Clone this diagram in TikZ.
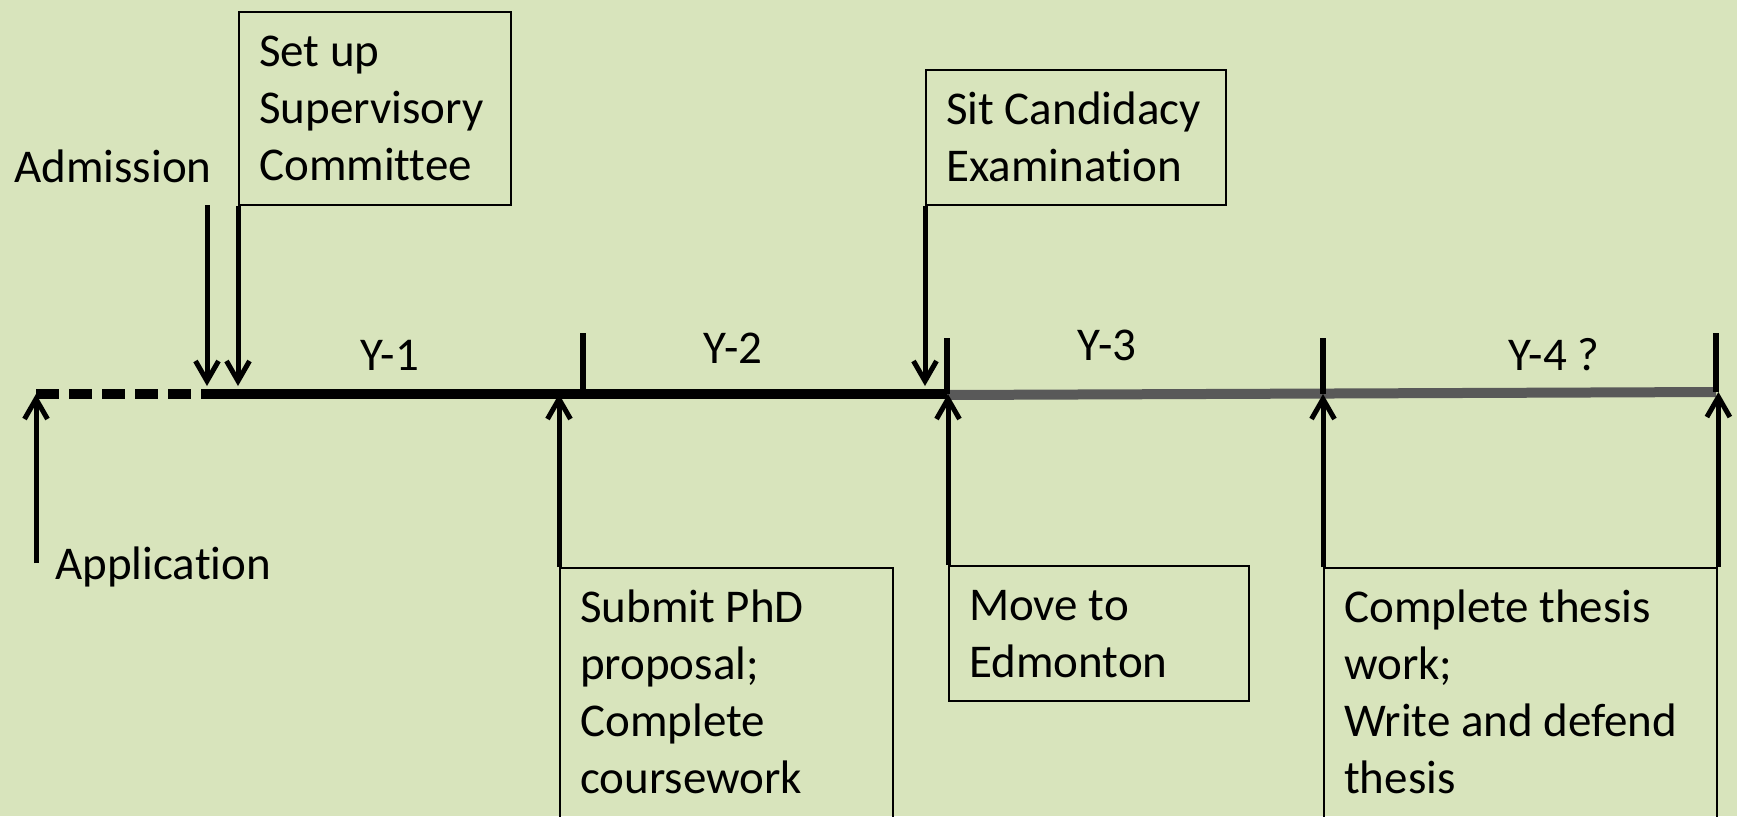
\documentclass[tikz,border=0pt]{standalone}
\usepackage{fontspec}
\setmainfont{Carlito}[Ligatures=NoCommon]
\usetikzlibrary{arrows.meta}
\definecolor{sheetgreen}{HTML}{D8E4BC}
\definecolor{laterline}{HTML}{595959}
\newcommand{\notefont}{\fontsize{23.5pt}{28.5pt}\selectfont}
\tikzset{
  notebox/.style={draw, line width=1.2pt, anchor=north west, align=flush left,
    inner xsep=10pt, inner ysep=7pt, font=\notefont},
  eventtag/.style={inner sep=0pt, font=\notefont},
  pointer/.style={line width=2.5pt, -{Straight Barb[length=10pt,width=11.5pt]}},
  yeartick/.style={line width=3pt},
}
\begin{document}
\begin{tikzpicture}[x=0.5pt, y=-0.5pt]
    \fill[sheetgreen] (0,0) rectangle (1737,816);
    \useasboundingbox (0,0) rectangle (1737,816);

    % points on the time line
    \coordinate (apply) at (36,394);
    \coordinate (admit) at (207,394);
    \coordinate (endone) at (583,394);
    \coordinate (endtwo) at (947,394);
    \coordinate (endthree) at (1323,394);
    \coordinate (endfour) at (1716,392);

    % time line: before admission, Y-1 and Y-2, then Y-3 and Y-4
    \draw[line width=5pt, dash pattern=on 11.5pt off 5pt] (apply) -- (admit);
    \draw[line width=5pt] (admit) -- (endtwo);
    \draw[line width=5pt, laterline] (endtwo) ++(0,1) -- (endfour);

    % year ticks
    \foreach \p/\h in {endone/61, endtwo/56, endthree/56, endfour/59}
        \draw[yeartick] (\p) -- ++(0,-\h);

    % year labels
    \node[eventtag, anchor=base] (yone) at (390,370) {Y-1};
    \node[eventtag, anchor=base] (ytwo) at (733,363) {Y-2};
    \node[eventtag, anchor=base] (ythree) at (1107,360) {Y-3};
    \node[eventtag, anchor=base] (yfour) at (1554,370) {Y-4 ?};

    % events above the line
    \node[eventtag, anchor=base west] (admission) at (14,182) {Admission};
    \node[notebox, text width=116pt, text depth=62.5pt] (setup) at (238,11)
        {\strut Set up\\Supervisory\\Committee};
    \node[notebox, text width=130pt, text depth=33.5pt] (sit) at (925,69)
        {\strut Sit Candidacy\\Examination};

    % events below the line
    \node[eventtag, anchor=base west] (application) at (55,579) {Application};
    \node[notebox, text width=146.5pt, text depth=150pt] (submit) at (559,567)
        {\strut Submit PhD\\proposal;\\Complete\\coursework};
    \node[notebox, text width=130pt, text depth=33.5pt] (move) at (948,565)
        {\strut Move to\\Edmonton};
    \node[notebox, text width=176.5pt, text depth=150pt] (finish) at (1323,567)
        {\strut Complete thesis\\work;\\Write and defend\\thesis};

    % arrows down to the line
    \coordinate (admtop) at (207,205);
    \draw[pointer, shorten >=4pt] (admtop) -- (admit);
    \draw[pointer, shorten >=4pt] (setup.south west) -- (setup.south west |- admit);
    \draw[pointer, shorten >=4pt] (sit.south west) -- (sit.south west |- endtwo);

    % arrows up to the line
    \coordinate (appfoot) at (36,563);
    \draw[pointer] (appfoot) -- (apply);
    \draw[pointer] (submit.north west) -- (submit.north west |- apply);
    \draw[pointer] (move.north west) -- (move.north west |- endtwo);
    \draw[pointer] (finish.north west) -- (finish.north west |- endthree);
    \draw[pointer] (finish.north east) -- (finish.north east |- endfour);
\end{tikzpicture}
\end{document}
